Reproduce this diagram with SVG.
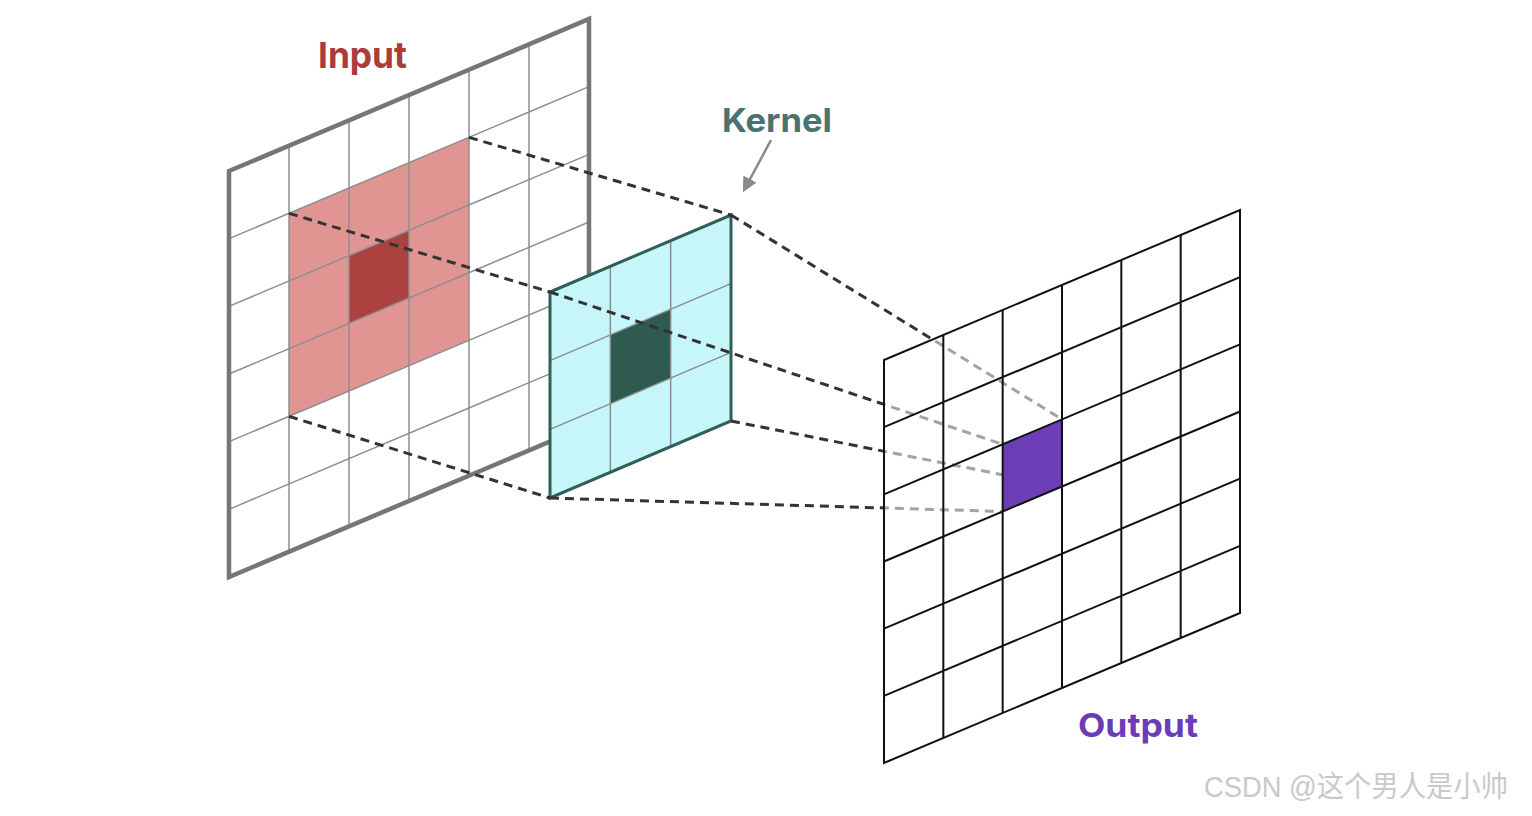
<svg xmlns="http://www.w3.org/2000/svg" width="1532" height="816" viewBox="0 0 1532 816">
<defs>
<style>
.in-grid{stroke:#8e8e8e;stroke-width:1.5;fill:none}
.in-border{stroke:#767676;stroke-width:4.5;fill:none;stroke-linejoin:miter}
.k-grid{stroke:#8c8c8c;stroke-width:1.5;fill:none}
.k-border{stroke:#2f5f55;stroke-width:3;fill:none}
.o-grid{stroke:#111111;stroke-width:2;fill:none}
.dash{stroke:#333333;stroke-width:3;stroke-dasharray:9 6;fill:none}
.label{font-family:Inter,"Liberation Sans",sans-serif;font-weight:700}
.wm{font-family:"Liberation Sans","Noto Sans CJK SC",sans-serif;fill:#c9c9c9}
</style>
<marker id="arrowhead" viewBox="0 0 15 15" refX="1" refY="7.5" markerWidth="15" markerHeight="15" markerUnits="userSpaceOnUse" orient="auto">
<path d="M0,0 L15,7.5 L0,15 Z" fill="#8a8a8a"/>
</marker>
</defs>
<rect width="1532" height="816" fill="#ffffff"/>

<g id="input">
<polygon points="229,171 589,19 589,425 229,577" fill="#ffffff"/>
<polygon points="289,213.33 469,137.33 469,340.33 289,416.33" fill="#e09593"/>
<polygon points="349,255.67 409,230.33 409,298 349,323.33" fill="#ab423f"/>
<path class="in-grid" d="M289,145.67V551.67 M349,120.33V526.33 M409,95V501 M469,69.67V475.67 M529,44.33V450.33 M229,238.67L589,86.67 M229,306.33L589,154.33 M229,374L589,222 M229,441.67L589,289.67 M229,509.33L589,357.33"/>
<polygon class="in-border" points="229,171 589,19 589,425 229,577"/>
</g>

<g id="kernel">
<polygon points="550,292 731,215 731,421 550,498" fill="#c6f6f9"/>
<polygon points="610.33,335 670.67,309.33 670.67,378 610.33,403.67" fill="#2e5a4f"/>
<path class="k-grid" d="M610.33,266.33V472.33 M670.67,240.67V446.67 M550,360.67L731,283.67 M550,429.33L731,352.33"/>
<polygon class="k-border" points="550,292 731,215 731,421 550,498"/>
</g>

<g id="connectors">
<line class="dash" x1="289" y1="213.33" x2="550" y2="292"/>
<line class="dash" x1="469" y1="137.33" x2="731" y2="215"/>
<line class="dash" x1="289" y1="416.33" x2="550" y2="498"/>
<line class="dash" x1="550" y1="292" x2="1002.67" y2="444.33"/>
<line class="dash" x1="731" y1="215" x2="1062" y2="419.33"/>
<line class="dash" x1="731" y1="421" x2="1062" y2="486.5"/>
<line class="dash" x1="550" y1="498" x2="1002.67" y2="511.5"/>
</g>

<g id="output">
<polygon points="884,360 1240,210 1240,613 884,763" fill="#ffffff" fill-opacity="0.55"/>
<polygon points="1002.67,444.33 1062,419.33 1062,486.5 1002.67,511.5" fill="#6b3db7"/>
<path class="o-grid" d="M943.33,335V738 M1002.67,310V713 M1062,285V688 M1121.33,260V663 M1180.67,235V638 M884,427.17L1240,277.17 M884,494.33L1240,344.33 M884,561.5L1240,411.5 M884,628.67L1240,478.67 M884,695.83L1240,545.83"/>
<polygon class="o-grid" points="884,360 1240,210 1240,613 884,763"/>
</g>

<g id="labels">
<text class="label" x="318" y="68" font-size="36" fill="#a83d3b" textLength="89" lengthAdjust="spacingAndGlyphs">Input</text>
<text class="label" x="722" y="132" font-size="33" fill="#4b7171" textLength="110" lengthAdjust="spacingAndGlyphs">Kernel</text>
<line x1="771" y1="140" x2="749.5" y2="180" stroke="#8a8a8a" stroke-width="2.5" marker-end="url(#arrowhead)"/>
<text class="label" x="1078" y="737" font-size="33" fill="#6a3db8" textLength="120" lengthAdjust="spacingAndGlyphs">Output</text>
<text class="wm" x="1204" y="797" font-size="29" textLength="304" lengthAdjust="spacingAndGlyphs">CSDN @这个男人是小帅</text>
</g>
</svg>
